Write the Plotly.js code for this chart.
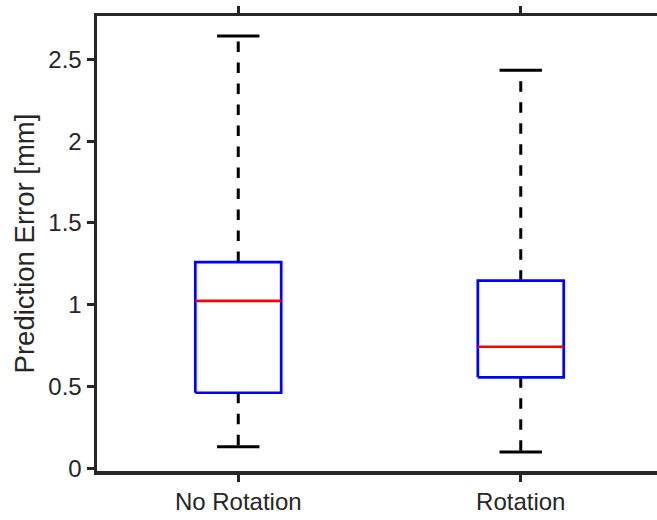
<!DOCTYPE html>
<html>
<head>
<meta charset="utf-8">
<script src="https://cdn.plot.ly/plotly-3.0.1.min.js"></script>
<style>
html,body{margin:0;padding:0;overflow:hidden;background:#fff;}
#chart{width:670px;height:520px;}
</style>
</head>
<body>
<div id="chart"></div>
<script>
const categories = ['No Rotation', 'Rotation'];
const lowerWhisker = [0.132, 0.100];
const q1 = [0.462, 0.556];
const median = [1.024, 0.743];
const q3 = [1.261, 1.147];
const upperWhisker = [2.642, 2.433];
const yTicks = [0, 0.5, 1, 1.5, 2, 2.5];

const boxHalf = 0.152;
const capHalf = 0.075;
const axisColor = '#262626';

const traces = [];
categories.forEach((c, i) => {
  const x = i + 1;
  // dashed whiskers
  traces.push({x: [x, x], y: [q3[i], upperWhisker[i]], mode: 'lines',
    line: {color: '#000', width: 3, dash: '10.5px,10.5px'}, hoverinfo: 'skip', showlegend: false});
  traces.push({x: [x, x], y: [q1[i], lowerWhisker[i]], mode: 'lines',
    line: {color: '#000', width: 3, dash: '10.5px,10.5px'}, hoverinfo: 'skip', showlegend: false});
  // caps
  traces.push({x: [x - capHalf, x + capHalf], y: [upperWhisker[i], upperWhisker[i]], mode: 'lines',
    line: {color: '#000', width: 3}, hoverinfo: 'skip', showlegend: false});
  traces.push({x: [x - capHalf, x + capHalf], y: [lowerWhisker[i], lowerWhisker[i]], mode: 'lines',
    line: {color: '#000', width: 3}, hoverinfo: 'skip', showlegend: false});
  // box
  traces.push({x: [x - boxHalf, x + boxHalf, x + boxHalf, x - boxHalf, x - boxHalf],
    y: [q1[i], q1[i], q3[i], q3[i], q1[i]], mode: 'lines',
    line: {color: '#0000ff', width: 2.7}, hoverinfo: 'skip', showlegend: false});
  // median
  traces.push({x: [x - boxHalf, x + boxHalf], y: [median[i], median[i]], mode: 'lines',
    line: {color: '#ff0000', width: 2.7}, hoverinfo: 'skip', showlegend: false});
});

const layout = {
  width: 670, height: 520,
  margin: {l: 97, r: 8, t: 16, b: 49},
  paper_bgcolor: '#fff', plot_bgcolor: '#fff',
  font: {family: '"Liberation Sans", Arial, Helvetica, sans-serif', color: axisColor, size: 24},
  xaxis: {
    range: [0.5, 2.5], tickvals: [1, 2], ticktext: categories,
    showgrid: false, zeroline: false, showline: true, linecolor: axisColor, linewidth: 3.5,
    mirror: 'ticks', ticks: 'outside', ticklen: 7, tickwidth: 3, tickcolor: axisColor,
    tickfont: {size: 24, color: axisColor}
  },
  yaxis: {
    range: [-0.0165, 2.765], tickvals: yTicks,
    showgrid: false, zeroline: false, showline: true, linecolor: axisColor, linewidth: 3.5,
    mirror: 'ticks', ticks: 'outside', ticklen: 7, tickwidth: 3, tickcolor: axisColor,
    tickfont: {size: 24, color: axisColor},
    title: {text: 'Prediction Error [mm]', font: {size: 27.5, color: axisColor}, standoff: 6}
  }
};

Plotly.newPlot('chart', traces, layout, {displayModeBar: false, staticPlot: true});
</script>
</body>
</html>
